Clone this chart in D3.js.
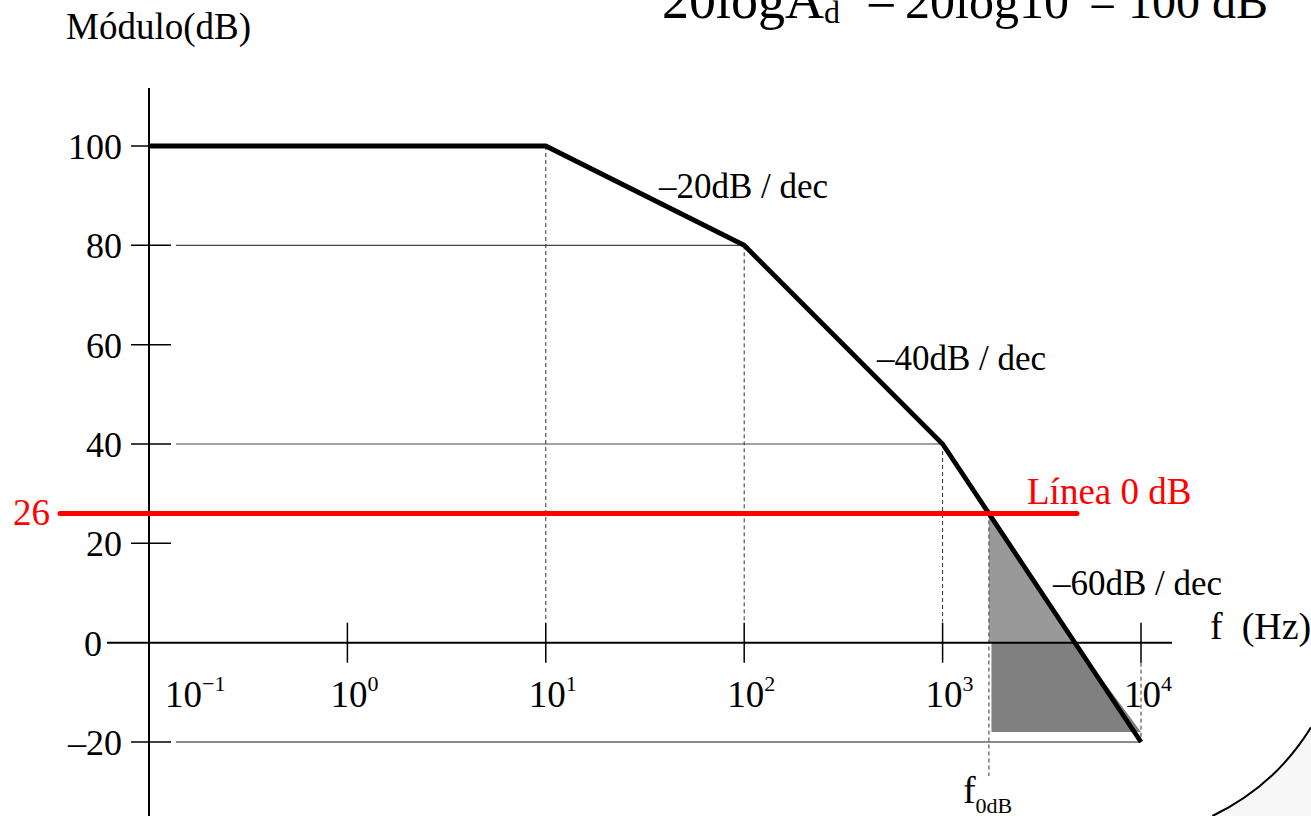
<!DOCTYPE html>
<html>
<head>
<meta charset="utf-8">
<script src="https://cdn.jsdelivr.net/npm/d3@7"></script>
<style>
  html, body { margin: 0; padding: 0; background: #fff; }
  svg { display: block; }
  text { font-family: "Liberation Serif", "Times New Roman", serif; }
</style>
</head>
<body>
<svg id="chart" width="1311" height="816"></svg>
<script>
// Asymptotic Bode magnitude plot of an op-amp with three poles
const freqTicks = [0.1, 1, 10, 100, 1000, 10000];
const freqExponents = ["\u22121", "0", "1", "2", "3", "4"];
const dbTicks = [100, 80, 60, 40, 20, 0, -20];
const dbTickLabels = ["100", "80", "60", "40", "20", "0", "\u201320"];
const cornerFreqs = [0.1, 10, 100, 1000, 10000];
const cornerGains = [100, 100, 80, 40, -20];
const slopeLabels = ["\u201320dB / dec", "\u201340dB / dec", "\u201360dB / dec"];
const gridGains = [80, 40, -20];
const closedLoopGain = 26;
const shadeFloorGain = -18;

const svg = d3.select("#chart");
const x = d3.scaleLog().domain([0.1, 10000]).range([149, 1141]);
const y = d3.scaleLinear().domain([-20, 100]).range([742, 146]);

const corners = cornerFreqs.map((f, i) => ({ f, g: cornerGains[i] }));

// frequency where the asymptotic curve reaches a given gain
function freqAtGain(g) {
  for (let i = 0; i < corners.length - 1; i++) {
    const a = corners[i], b = corners[i + 1];
    if ((a.g - g) * (b.g - g) <= 0 && a.g !== b.g) {
      const t = (g - a.g) / (b.g - a.g);
      return Math.pow(10, Math.log10(a.f) + t * (Math.log10(b.f) - Math.log10(a.f)));
    }
  }
  return null;
}

const f0dB = freqAtGain(closedLoopGain);
const fZero = freqAtGain(0);
const fEnd = cornerFreqs[cornerFreqs.length - 1];

// background sweep in the lower-right corner
const cx = 1111, cy = 604, r = 235;
const a0 = Math.asin((816 - cy) / r);
const p0 = [cx + r * Math.cos(a0), 816];
const a1 = Math.acos((1311 - cx) / r);
const p1 = [1311, cy + r * Math.sin(a1)];
svg.append("path")
  .attr("d", `M${p0[0]},${p0[1]} A${r},${r} 0 0 0 ${p1[0]},${p1[1]} L1311,816 Z`)
  .attr("fill", "#f7f7f7");
svg.append("path")
  .attr("d", `M${p0[0]},${p0[1]} A${r},${r} 0 0 0 ${p1[0]},${p1[1]}`)
  .attr("fill", "none").attr("stroke", "#000").attr("stroke-width", 2);

// shaded areas between f0dB and the curve
const areaGen = d3.area().x(d => x(d.f)).y0(d => y(d.lo)).y1(d => y(d.hi));
svg.append("path")
  .datum([{ f: f0dB, lo: 0, hi: closedLoopGain }, { f: fZero, lo: 0, hi: 0 }])
  .attr("d", areaGen)
  .attr("fill", "#999999");
svg.append("path")
  .datum([{ f: f0dB * 1.03, lo: shadeFloorGain, hi: 0 }, { f: fZero, lo: shadeFloorGain, hi: 0 },
          { f: fEnd, lo: shadeFloorGain, hi: shadeFloorGain }])
  .attr("d", areaGen)
  .attr("fill", "#808080");

// horizontal reference lines
gridGains.forEach(g => {
  const end = corners.find(c => c.g === g).f;
  svg.append("line")
    .attr("x1", 176).attr("x2", x(end))
    .attr("y1", y(g)).attr("y2", y(g))
    .attr("stroke", g === -20 ? "#666" : "#444")
    .attr("stroke-width", g === -20 ? 1.6 : 1.1);
});

// dashed drop lines from the corners
const dash = "4,3";
corners.slice(1, 4).forEach(c => {
  svg.append("line")
    .attr("x1", x(c.f)).attr("x2", x(c.f))
    .attr("y1", y(c.g)).attr("y2", y(0) - 21)
    .attr("stroke", "#333").attr("stroke-width", 1).attr("stroke-dasharray", dash);
});
svg.append("line")
  .attr("x1", x(fEnd)).attr("x2", x(fEnd))
  .attr("y1", y(0) + 20).attr("y2", y(-20))
  .attr("stroke", "#333").attr("stroke-width", 1).attr("stroke-dasharray", dash);
svg.append("line")
  .attr("x1", x(f0dB)).attr("x2", x(f0dB))
  .attr("y1", y(closedLoopGain)).attr("y2", 776)
  .attr("stroke", "#555").attr("stroke-width", 1.2).attr("stroke-dasharray", dash);

// axes
const axisX0 = x(0.1);
svg.append("line")
  .attr("x1", axisX0).attr("x2", axisX0).attr("y1", 88).attr("y2", 816)
  .attr("stroke", "#000").attr("stroke-width", 2);
svg.append("line")
  .attr("x1", 107).attr("x2", 1172).attr("y1", y(0)).attr("y2", y(0))
  .attr("stroke", "#000").attr("stroke-width", 2);

// y ticks and labels
dbTicks.forEach((v, i) => {
  if (v !== 0) {
    svg.append("line")
      .attr("x1", axisX0 - 18).attr("x2", axisX0 + 22)
      .attr("y1", y(v)).attr("y2", y(v))
      .attr("stroke", "#000").attr("stroke-width", 1.5);
  }
  svg.append("text")
    .attr("x", v === 0 ? 102 : 122).attr("y", y(v) + 13)
    .attr("text-anchor", "end")
    .attr("font-size", 36)
    .text(dbTickLabels[i]);
});

// x ticks and labels
freqTicks.forEach((f, i) => {
  const px = x(f);
  if (i > 0) {
    svg.append("line")
      .attr("x1", px).attr("x2", px).attr("y1", y(0) - 20).attr("y2", y(0) + 20)
      .attr("stroke", "#000").attr("stroke-width", 1.5);
  }
  const lx = Math.max(px - 17, axisX0 + 16);
  const t = svg.append("text").attr("x", lx).attr("y", 707).attr("font-size", 37);
  t.append("tspan").text("10");
  t.append("tspan").attr("dy", -16).attr("font-size", 22).text(freqExponents[i]);
});

// asymptotic magnitude curve
const line = d3.line().x(d => x(d.f)).y(d => y(d.g));
svg.append("path")
  .datum(corners)
  .attr("d", line)
  .attr("fill", "none")
  .attr("stroke", "#000")
  .attr("stroke-width", 4.8)
  .attr("stroke-linejoin", "miter");

// closed-loop gain line
svg.append("line")
  .attr("x1", 60).attr("x2", 1077)
  .attr("y1", y(closedLoopGain)).attr("y2", y(closedLoopGain))
  .attr("stroke", "#ff0000").attr("stroke-width", 5).attr("stroke-linecap", "round");
svg.append("text")
  .attr("x", 50).attr("y", y(closedLoopGain) + 11)
  .attr("text-anchor", "end").attr("font-size", 37).attr("fill", "#ff0000")
  .text(String(closedLoopGain));
svg.append("text")
  .attr("x", 1027).attr("y", y(closedLoopGain) - 10)
  .attr("font-size", 37).attr("fill", "#ff0000")
  .text("L\u00ednea 0 dB");

// slope annotations
const slopePos = [[659, 198], [877, 370], [1053, 595]];
slopeLabels.forEach((s, i) => {
  svg.append("text")
    .attr("x", slopePos[i][0]).attr("y", slopePos[i][1])
    .attr("font-size", 35)
    .text(s);
});

// axis titles
svg.append("text")
  .attr("x", 66).attr("y", 39).attr("font-size", 37)
  .text("M\u00f3dulo(dB)");
svg.append("text")
  .attr("x", 1210).attr("y", 639).attr("font-size", 38)
  .text("f\u2002(Hz)");

// f0dB marker label
const fl = svg.append("text").attr("x", x(f0dB) - 26).attr("y", 803).attr("font-size", 38);
fl.append("tspan").text("f");
fl.append("tspan").attr("dy", 10).attr("font-size", 22).text("0dB");

// gain formula along the top edge
const eq1 = svg.append("text").attr("x", 662).attr("y", 18).attr("font-size", 54);
eq1.append("tspan").text("20logA");
eq1.append("tspan").attr("dy", 5).attr("font-size", 32).text("d");
svg.append("text").attr("x", 866).attr("y", 18).attr("font-size", 54).text("=");
const eq2 = svg.append("text").attr("x", 905).attr("y", 18).attr("font-size", 50);
eq2.append("tspan").text("20log10");
eq2.append("tspan").attr("dy", -22).attr("font-size", 30).text("5");
svg.append("text").attr("x", 1268).attr("y", 18).attr("font-size", 48)
  .attr("text-anchor", "end").text("= 100 dB");
</script>
</body>
</html>
